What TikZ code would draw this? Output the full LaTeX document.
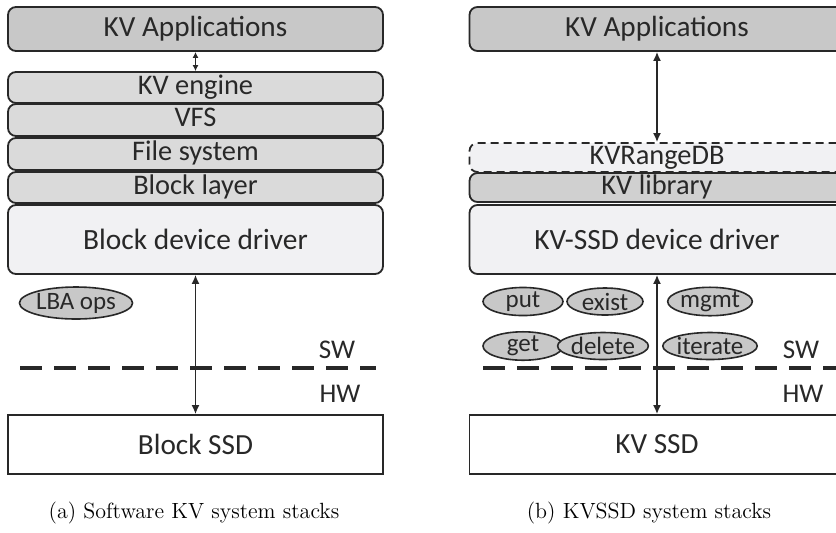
\documentclass[tikz,border=0pt]{standalone}
\usepackage{fontspec}
\usepackage{tikz}
\usepackage{xcolor}
\usetikzlibrary{positioning, arrows.meta, shapes.geometric}
\newfontfamily\boxfont{Carlito}
\definecolor{kvdark}{RGB}{200, 200, 200}
\definecolor{kvmid}{RGB}{218, 218, 218}
\definecolor{kvlight}{RGB}{241, 241, 243}
\definecolor{kvline}{RGB}{40, 40, 40}
\tikzset{
    stackbox/.style={rectangle, draw=kvline, line width=0.9pt, rounded corners=4pt,
        minimum width=187.5pt, inner sep=0pt, text=kvline},
    appbox/.style={stackbox, fill=kvdark, minimum height=22pt, font=\boxfont\fontsize{14.6}{15}\selectfont},
    layerbox/.style={stackbox, fill=kvmid, minimum height=15.5pt, text height=9.2pt, text depth=2.6pt,
        font=\boxfont\fontsize{14.2}{15}\selectfont},
    drvbox/.style={stackbox, fill=kvlight, minimum height=34.5pt, font=\boxfont\fontsize{14.7}{15}\selectfont},
    dbbox/.style={layerbox, fill=kvlight, dashed, dash pattern=on 4pt off 2.5pt},
    ssdbox/.style={stackbox, rounded corners=0pt, fill=white, minimum height=29.5pt, font=\boxfont\fontsize{14.6}{15}\selectfont},
    opnode/.style={ellipse, draw=kvline, line width=0.8pt, fill=kvdark, inner sep=0pt,
        minimum width=38pt, minimum height=13.5pt, font=\boxfont\fontsize{12.5}{13}\selectfont, text=kvline},
    swhw/.style={font=\boxfont\fontsize{13.5}{14}\selectfont, text=kvline},
    link/.style={{Latex[length=4.5pt,width=4pt]}-{Latex[length=4.5pt,width=4pt]}, line width=0.8pt, draw=kvline},
    border/.style={dash pattern=on 11pt off 6pt, line width=2pt, draw=kvline},
    subcap/.style={font=\fontsize{11}{12}\selectfont}
}
\begin{document}
\begin{tikzpicture}[x=0.5pt, y=-0.5pt]
    \useasboundingbox (0,0) rectangle (836,532);

    % (a) software stack
    \node[appbox] (appL) at (195.5,29) {KV Applications};
    \node[layerbox] (engL) at (195.5,87.5) {KV engine};
    \node[layerbox, minimum height=16pt] (vfsL) at (195.5,120) {VFS};
    \node[layerbox, minimum height=16pt] (fsL) at (195.5,154) {File system};
    \node[layerbox] (blkL) at (195.5,187.5) {Block layer};
    \node[drvbox] (drvL) at (195.5,239.5) {Block device driver};
    \node[ssdbox] (ssdL) at (195.5,444.5) {Block SSD};
    \node[opnode, minimum width=53.5pt, minimum height=16pt] (lba) at (76,303) {LBA ops};
    \coordinate (sepLa) at (20,368);
    \coordinate (sepLb) at (376,368);
    \draw[border] (sepLa) -- (sepLb);
    \node[swhw] (swL) at (337,350) {SW};
    \node[swhw] (hwL) at (340,394) {HW};
    \draw[link, {Latex[length=3pt,width=3pt]}-{Latex[length=3pt,width=3pt]}] (appL) -- (engL);
    \draw[link] (drvL) -- (ssdL);
    \node[subcap] (capL) at (194,513) {(a) Software KV system stacks};

    % (b) KVSSD stack
    \node[appbox] (appR) at (657,29) {KV Applications};
    \node[dbbox, minimum height=14.5pt] (dbR) at (657,157.5) {KVRangeDB};
    \node[layerbox, minimum height=14.5pt, fill=kvdark!85!white] (libR) at (657,187.5) {KV library};
    \node[drvbox] (drvR) at (657,239.5) {KV-SSD device driver};
    \node[ssdbox] (ssdR) at (657,444.5) {KV SSD};
    \node[opnode, minimum width=40pt] (put) at (523,301.5) {put};
    \node[opnode] (exist) at (605,301.5) {exist};
    \node[opnode, minimum width=37pt] (mgmt) at (710,301.5) {mgmt};
    \node[opnode, minimum width=40pt] (get) at (523,346) {get};
    \node[opnode, minimum width=36pt] (delete) at (603,346) {delete};
    \node[opnode, minimum width=37pt] (iterate) at (710,346) {iterate};
    \coordinate (sepRa) at (483,368);
    \coordinate (sepRb) at (850,368);
    \draw[border] (sepRa) -- (sepRb);
    \node[swhw] (swR) at (801,350) {SW};
    \node[swhw] (hwR) at (803,394) {HW};
    \draw[link] (appR) -- (dbR);
    \draw[link] (drvR) -- (ssdR);
    \node[subcap] (capR) at (649,513) {(b) KVSSD system stacks};
\end{tikzpicture}
\end{document}
